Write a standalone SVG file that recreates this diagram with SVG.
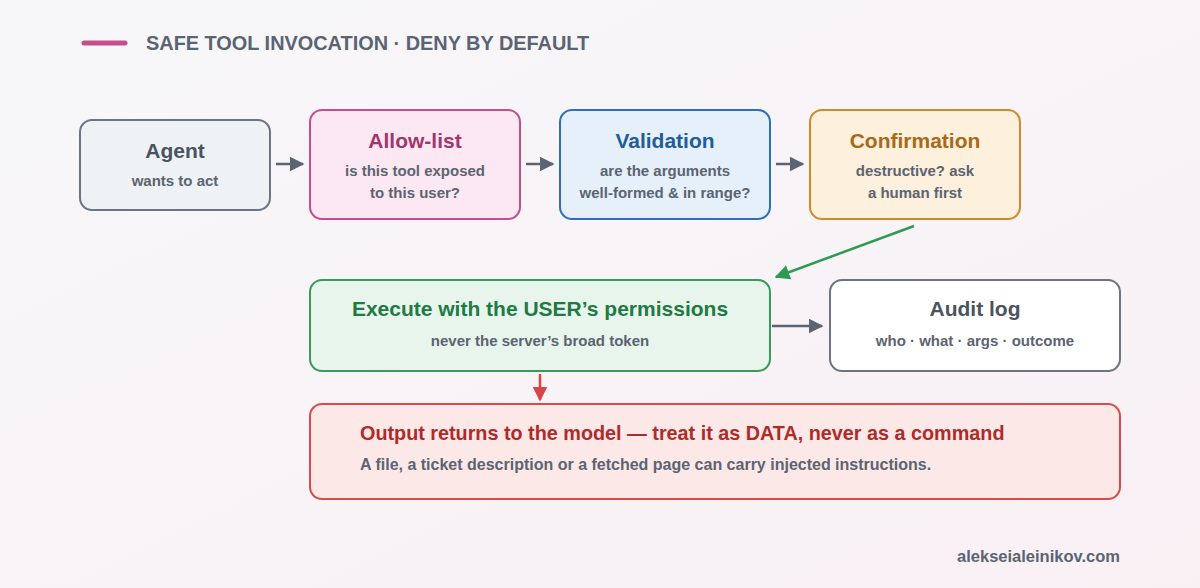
<svg xmlns="http://www.w3.org/2000/svg" width="1200" height="588" viewBox="0 0 1200 588">
<defs>
<linearGradient id="bg" x1="0" y1="0" x2="1" y2="1"><stop offset="0" stop-color="#f7f7fa"/><stop offset="1" stop-color="#f9f0f4"/></linearGradient>
<marker id="ag" viewBox="0 0 10 10" refX="9" refY="5" markerWidth="6" markerHeight="6" orient="auto" markerUnits="strokeWidth"><path d="M0,0 L10,5 L0,10 z" fill="#5b6472"/></marker>
<marker id="agr" viewBox="0 0 10 10" refX="9" refY="5" markerWidth="6" markerHeight="6" orient="auto" markerUnits="strokeWidth"><path d="M0,0 L10,5 L0,10 z" fill="#2e9a52"/></marker>
<marker id="ar" viewBox="0 0 10 10" refX="9" refY="5" markerWidth="6" markerHeight="6" orient="auto" markerUnits="strokeWidth"><path d="M0,0 L10,5 L0,10 z" fill="#d94444"/></marker>
</defs>
<style>
text{font-family:"Liberation Sans",Arial,sans-serif;font-weight:bold;text-anchor:middle}
.t{font-size:21px}.s{font-size:15px;fill:#5b6472}
rect{stroke-width:2}
</style>
<rect width="1200" height="588" fill="url(#bg)"/>
<line x1="84" y1="43" x2="125" y2="43" stroke="#c44d8a" stroke-width="5" stroke-linecap="round"/>
<text x="146" y="50" style="text-anchor:start;font-size:19.9px" fill="#5b6472">SAFE TOOL INVOCATION · DENY BY DEFAULT</text>
<g id="agent"><rect x="80" y="120" width="190" height="90" rx="12" fill="#eef2f5" stroke="#6b7482"/><text class="t" x="175" y="158" fill="#4b5361">Agent</text><text class="s" x="175" y="186">wants to act</text></g>
<g id="allow"><rect x="310" y="110" width="210" height="109" rx="12" fill="#fbe8f2" stroke="#c44d8a"/><text class="t" x="415" y="148" fill="#a3346f">Allow-list</text><text class="s" x="415" y="176">is this tool exposed</text><text class="s" x="415" y="198">to this user?</text></g>
<g id="validation"><rect x="560" y="110" width="210" height="109" rx="12" fill="#e6f0fa" stroke="#2f6fb8"/><text class="t" x="665" y="148" fill="#245b9a">Validation</text><text class="s" x="665" y="176">are the arguments</text><text class="s" x="665" y="198">well-formed &amp; in range?</text></g>
<g id="confirm"><rect x="810" y="110" width="210" height="109" rx="12" fill="#fdf0dc" stroke="#d08a2e"/><text class="t" x="915" y="148" fill="#a86a1a">Confirmation</text><text class="s" x="915" y="176">destructive? ask</text><text class="s" x="915" y="198">a human first</text></g>
<g id="execute"><rect x="310" y="280" width="460" height="91" rx="12" fill="#e8f5ec" stroke="#3a9a5a"/><text class="t" x="540" y="316" fill="#217a43">Execute with the USER’s permissions</text><text class="s" x="540" y="346">never the server’s broad token</text></g>
<g id="audit"><rect x="830" y="280" width="290" height="91" rx="12" fill="#ffffff" stroke="#6b7482"/><text class="t" x="975" y="316" fill="#4b5361">Audit log</text><text class="s" x="975" y="346">who · what · args · outcome</text></g>
<g id="output"><rect x="310" y="404" width="810" height="95" rx="12" fill="#fde8e8" stroke="#d94a4a"/><text x="360" y="440" style="text-anchor:start;font-size:19.8px" fill="#b02a2a">Output returns to the model — treat it as DATA, never as a command</text><text class="s" x="360" y="470" style="text-anchor:start;font-size:16px">A file, a ticket description or a fetched page can carry injected instructions.</text></g>
<g id="connectors" fill="none" stroke-width="2.5">
<line x1="276" y1="164" x2="303" y2="164" stroke="#5b6472" marker-end="url(#ag)"/>
<line x1="526" y1="164" x2="553" y2="164" stroke="#5b6472" marker-end="url(#ag)"/>
<line x1="776" y1="164" x2="803" y2="164" stroke="#5b6472" marker-end="url(#ag)"/>
<line x1="914" y1="226" x2="776" y2="277" stroke="#2e9a52" marker-end="url(#agr)"/>
<line x1="772" y1="326" x2="822" y2="326" stroke="#5b6472" marker-end="url(#ag)"/>
<line x1="540" y1="374" x2="540" y2="400" stroke="#d94444" marker-end="url(#ar)"/>
</g>
<text x="1120" y="562" style="text-anchor:end;font-size:16.5px" fill="#5b6472">alekseialeinikov.com</text>
</svg>
